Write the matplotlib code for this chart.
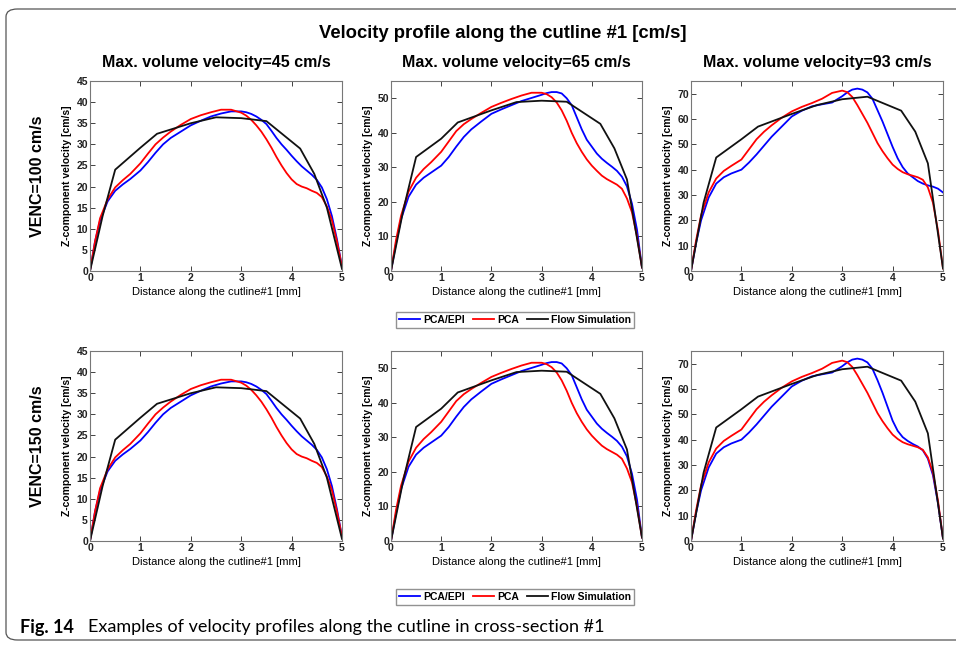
import matplotlib
matplotlib.use("Agg")
import matplotlib.pyplot as plt
from matplotlib.patches import FancyBboxPatch
from matplotlib.lines import Line2D

# ---------------- data ----------------
col_titles = ["Max. volume velocity=45 cm/s", "Max. volume velocity=65 cm/s", "Max. volume velocity=93 cm/s"]
row_titles = ["VENC=100 cm/s", "VENC=150 cm/s"]
series_names = ["PCA/EPI", "PCA", "Flow Simulation"]
ylims = [45, 55, 75]
ysteps = [5, 10, 10]
xticks = [0, 1, 2, 3, 4, 5]

# Flow simulation (piecewise linear)
sim_x = [0, 0.25, 0.5, 1.0, 1.33, 2.0, 2.5, 3.0, 3.5, 4.17, 4.45, 4.7, 5.0]
sim_45 = [0, 13, 24, 29.2, 32.5, 35.0, 36.4, 36.2, 35.5, 29.0, 23.0, 15.0, 0.5]
sim_65 = [0, 18, 33, 38.3, 43.0, 46.5, 48.9, 49.3, 49.0, 42.6, 35.5, 26.5, 1.0]
sim_93 = [0, 27, 44.8, 52.0, 57.0, 62.0, 65.5, 67.8, 68.8, 63.3, 55.0, 42.5, 1.0]

# PCA/EPI and PCA (smooth)
mx = [0, 0.1, 0.2, 0.35, 0.5, 0.65, 0.8, 1.0, 1.15, 1.3, 1.45, 1.6, 1.8, 2.0, 2.2, 2.4, 2.6, 2.8,
      3.0, 3.1, 3.2, 3.3, 3.4, 3.5, 3.6, 3.7, 3.8, 3.9, 4.0, 4.1, 4.2, 4.3, 4.4, 4.5, 4.6, 4.7,
      4.8, 4.9, 5.0]

epi_45 = [0, 7, 12, 16.5, 19, 20.5, 21.8, 23.8, 25.8, 28, 30, 31.5, 33, 34.5, 35.6, 36.6, 37.3, 37.8,
          37.8, 37.6, 37.2, 36.6, 35.8, 34.8, 33.2, 31.5, 30.0, 28.7, 27.3, 26.0, 24.8, 23.8, 22.8, 21.6, 19.8, 17.0,
          13.0, 7.5, 1.0]
pca_45 = [0, 7, 12.5, 17, 19.8, 21.5, 23.0, 25.5, 27.8, 30.0, 31.6, 33.0, 34.6, 36.0, 36.9, 37.6, 38.2, 38.2,
          37.5, 36.8, 35.8, 34.5, 33.0, 31.2, 29.2, 27.0, 25.0, 23.2, 21.7, 20.6, 20.0, 19.6, 19.0, 18.5, 17.5, 15.3,
          12.0, 7.0, 1.0]

epi_65 = [0, 8, 15, 21.5, 25, 27, 28.5, 30.5, 33.0, 36.0, 38.8, 41.0, 43.3, 45.5, 46.8, 48.0, 49.2, 50.1,
          51.0, 51.5, 51.8, 51.8, 51.4, 50.0, 48.0, 44.5, 41.0, 38.0, 36.0, 34.0, 32.5, 31.3, 30.2, 29.0, 27.3, 24.5,
          19.5, 12.0, 1.0]
pca_65 = [0, 9, 16, 23, 27, 29.5, 31.5, 34.5, 37.5, 40.5, 42.5, 44.0, 45.8, 47.5, 48.7, 49.8, 50.8, 51.6,
          51.6, 51.2, 50.3, 48.8, 46.5, 43.5, 40.0, 37.0, 34.5, 32.3, 30.5, 29.0, 27.6, 26.6, 25.8, 25.0, 23.8, 21.0,
          17.0, 10.0, 1.0]

epi_93a = [0, 11, 20, 29, 34.5, 37, 38.5, 40.0, 42.8, 46.0, 49.5, 53.0, 57.0, 61.0, 63.3, 65.0, 65.8, 66.5,
           69.0, 70.5, 71.6, 72.0, 71.6, 70.5, 68.0, 63.5, 59.0, 54.0, 49.0, 44.5, 41.0, 38.5, 37.0, 35.5, 34.5, 33.8,
           33.3, 32.5, 31.0]
pca_93a = [0, 12, 22, 31, 36.5, 39.5, 41.5, 44.0, 48.0, 52.0, 55.0, 57.5, 60.5, 63.0, 64.8, 66.3, 68.0, 70.3,
           71.2, 70.6, 68.7, 65.5, 62.0, 58.5, 54.5, 50.5, 47.3, 44.5, 42.0, 40.3, 39.0, 38.2, 37.6, 37.0, 36.0, 33.0,
           27.0, 16.0, 1.0]
epi_93b = [0, 11, 20, 29, 34.5, 37, 38.5, 40.0, 42.8, 46.0, 49.5, 53.0, 57.0, 61.0, 63.3, 65.0, 65.8, 66.5,
           69.0, 70.5, 71.6, 72.0, 71.6, 70.5, 68.0, 63.5, 58.5, 53.0, 47.5, 43.5, 41.0, 39.5, 38.3, 37.3, 35.8, 32.5,
           26.0, 15.0, 1.0]
pca_93b = pca_93a

data = [
    [(epi_45, pca_45, sim_45), (epi_65, pca_65, sim_65), (epi_93a, pca_93a, sim_93)],
    [(epi_45, pca_45, sim_45), (epi_65, pca_65, sim_65), (epi_93b, pca_93b, sim_93)],
]

# ---------------- style ----------------
NARROW = ["Liberation Sans", "DejaVu Sans"]
SANS = ["Liberation Sans", "DejaVu Sans"]
plt.rcParams["font.family"] = SANS
colors = ["#0000ff", "#ff0000", "#111111"]

W, H = 956, 645
fig = plt.figure(figsize=(W / 100, H / 100), dpi=100)

def fx(px):
    return px / W

def fy(py):
    return 1 - py / H

# outer rounded frame
frame = FancyBboxPatch((fx(6), fy(640)), fx(1000 - 6), fy(9) - fy(640),
                       boxstyle="round,pad=0,rounding_size=0.012",
                       transform=fig.transFigure, fill=False, ec="#555555", lw=0.9)
fig.patches.append(frame)

fig.text(fx(503), fy(33), "Velocity profile along the cutline #1 [cm/s]",
         ha="center", va="center", fontsize=13.3, fontweight="bold", family=NARROW)

lefts = [90, 391, 691]
widths = [252, 251, 252]
tops = [81, 351]
axh = 190

for r in range(2):
    for c in range(3):
        l, w, t = lefts[c], widths[c], tops[r]
        ax = fig.add_axes([fx(l), fy(t + axh), fx(w), axh / H])
        epi, pca, sim = data[r][c]
        ax.plot(mx, epi, color=colors[0], lw=1.3)
        ax.plot(mx, pca, color=colors[1], lw=1.3)
        ax.plot(sim_x, sim, color=colors[2], lw=1.3)
        ax.set_xlim(0, 5)
        ax.set_ylim(0, ylims[c])
        ax.set_xticks(xticks)
        ax.set_yticks(list(range(0, ylims[c] + 1, ysteps[c])))
        ax.tick_params(direction="in", top=True, right=True, length=3.5, width=0.6,
                       labelsize=7.5, pad=1.5, colors="#222222")
        for lab in ax.get_xticklabels() + ax.get_yticklabels():
            lab.set_fontweight("bold")
        for s in ax.spines.values():
            s.set_color("#777777")
            s.set_linewidth(0.8)
        ax.set_xlabel("Distance along the cutline#1 [mm]", fontsize=8, labelpad=3)
        ax.set_ylabel("Z-component velocity [cm/s]", fontsize=7.5, fontweight="bold", labelpad=3)
        if r == 0:
            fig.text(fx(l + w / 2), fy(63), col_titles[c], ha="center", va="center",
                     fontsize=11.5, fontweight="bold", family=NARROW)
    fig.text(fx(37), fy(tops[r] + axh / 2), row_titles[r], rotation=90, ha="center", va="center",
             fontsize=11.5, fontweight="bold", family=NARROW)

# legends
handles = [Line2D([], [], color=col, lw=1.3) for col in colors]
for cy in (320, 597):
    fig.legend(handles, series_names, loc="center", bbox_to_anchor=(fx(515), fy(cy)),
               ncol=3, frameon=True, fancybox=False, edgecolor="#777777",
               handlelength=2.0, handletextpad=0.3, columnspacing=0.8, borderpad=0.3,
               prop={"weight": "bold", "size": 7.5})

# caption
CAP = ["Lato", "DejaVu Sans"]
fig.text(fx(20), fy(627), "Fig. 14", ha="left", va="center", fontsize=13, fontweight="bold", family=CAP)
fig.text(fx(88), fy(627), "Examples of velocity profiles along the cutline in cross-section #1",
         ha="left", va="center", fontsize=13, family=CAP)

fig.savefig("out.png", dpi=100)
